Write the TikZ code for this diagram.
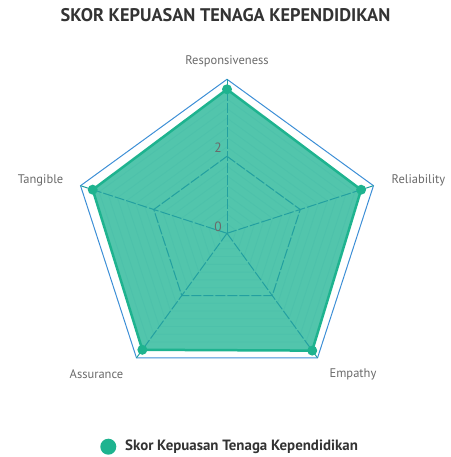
\documentclass[tikz,border=0pt]{standalone}
\usepackage{fontspec}
\setmainfont{PT Sans}
\definecolor{skorfill}{HTML}{52C5AC}
\definecolor{skorline}{HTML}{1EB38F}
\definecolor{gridteal}{HTML}{23A0A0}
\definecolor{outerblue}{HTML}{3D8FD6}
\definecolor{labelgrey}{HTML}{6A6A6A}
\definecolor{titlegrey}{HTML}{333333}
\tikzset{
  axislabel/.style={text=labelgrey, font=\fontsize{12.5}{14}\selectfont, inner sep=0pt},
  ticklabel/.style={text=labelgrey, font=\fontsize{13.5}{15}\selectfont, inner sep=0pt},
  gridline/.style={gridteal, line width=1pt, dash pattern=on 10pt off 2pt},
  datapoint/.style={circle, fill=skorline, inner sep=0pt, minimum size=10pt}
}
\begin{document}
\begin{tikzpicture}[x=1pt,y=1pt]
\useasboundingbox (0,0) rectangle (450,457);
% title
\node[text=titlegrey, font=\bfseries\fontsize{18.3}{20}\selectfont] (title) at (225.5,442) {SKOR KEPUASAN TENAGA KEPENDIDIKAN};
\begin{scope}[shift={(227,223.7)}]
  % outer ring (value 4)
  \draw[outerblue, line width=1pt] (90:154) -- (18:154) -- (-54:154) -- (-126:154) -- (162:154) -- cycle;
  % data values
  \coordinate (resp) at (90:144);
  \coordinate (reli) at (18:141);
  \coordinate (empa) at (-54:145);
  \coordinate (assu) at (-126:144);
  \coordinate (tang) at (162:141.2);
  \fill[skorfill] (resp) -- (reli) -- (empa) -- (assu) -- (tang) -- cycle;
  % faint rings inside the area
  \begin{scope}
    \clip (resp) -- (reli) -- (empa) -- (assu) -- (tang) -- cycle;
    \foreach \r in {9.6,19.2,...,150}
      \draw[gridteal, opacity=0.1, line width=0.8pt] (90:\r) -- (18:\r) -- (-54:\r) -- (-126:\r) -- (162:\r) -- cycle;
  \end{scope}
  % grid
  \foreach \a in {90,18,-54,-126,162}
    \draw[gridline] (0,0) -- (\a:154);
  \draw[gridline] (90:77) -- (18:77) -- (-54:77) -- (-126:77) -- (162:77) -- cycle;
  % data border and points
  \draw[skorline, line width=2.5pt, line join=round] (resp) -- (reli) -- (empa) -- (assu) -- (tang) -- cycle;
  \foreach \p in {resp,reli,empa,assu,tang}
    \node[datapoint] at (\p) {};
  % tick labels
  \node[ticklabel] (tick0) at (-9,6.6) {0};
  \node[ticklabel] (tick2) at (-9,85.3) {2};
\end{scope}
% axis labels
\node[axislabel] (lresp) at (227,396) {Responsiveness};
\node[axislabel, anchor=west] (lreli) at (391.5,276.3) {Reliability};
\node[axislabel, anchor=east] (ltang) at (63.5,276.3) {Tangible};
\node[axislabel] (lassu) at (96.5,83) {Assurance};
\node[axislabel] (lempa) at (353,83) {Empathy};
% legend
\node[circle, fill=skorline, inner sep=0pt, minimum size=16pt] (legdot) at (108.3,10.3) {};
\node[text=titlegrey, font=\bfseries\fontsize{14.9}{17}\selectfont, anchor=west, inner sep=0pt] (legtext) at (125,10.3) {Skor Kepuasan Tenaga Kependidikan};
\end{tikzpicture}
\end{document}
